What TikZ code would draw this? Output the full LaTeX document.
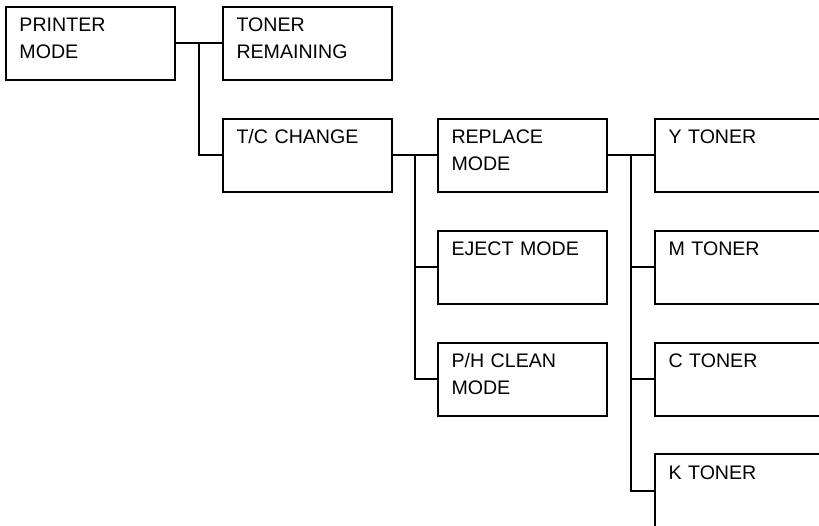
\documentclass[tikz,border=0pt]{standalone}
\usepackage{fontspec}
\setmainfont{Liberation Sans}
\usetikzlibrary{calc}
\tikzset{
    menubox/.style = {rectangle, draw=black, line width=2pt, anchor=north west,
                      minimum width=169pt, minimum height=73pt, inner xsep=13.5pt, inner ysep=11.5pt,
                      text width=142pt, align=left, text height=13.5pt, text depth=36.5pt,
                      font=\fontsize{19.6}{26.3}\selectfont},
    link/.style    = {line width=2pt, draw=black}
}
\begin{document}
\begin{tikzpicture}[x=1pt, y=-1pt]
        \clip (0,0) rectangle (819,526);
        \useasboundingbox (0,0) rectangle (819,526);

        % First Level
        \node[menubox] (pm) at (5, 6) {PRINTER\\MODE};
        \node[menubox] (tr) at (222, 6) {TONER\\REMAINING};
        \node[menubox] (tc) at (222, 118) {T/C CHANGE};

        % Second Level
        \node[menubox] (rm) at (437, 118) {REPLACE\\MODE};
        \node[menubox] (em) at (437, 230) {EJECT MODE};
        \node[menubox] (pc) at (437, 342) {P/H CLEAN\\MODE};

        % Third Level (Cut Off At Right)
        \node[menubox] (yt) at (654, 118) {Y TONER};
        \node[menubox] (mt) at (654, 230) {M TONER};
        \node[menubox] (ct) at (654, 342) {C TONER};
        \node[menubox] (kt) at (654, 453) {K TONER};

        % Junctions
        \coordinate (j1) at ($(pm.east)!0.5!(tr.west)$);
        \coordinate (j2) at ($(tc.east)!0.5!(rm.west)$);
        \coordinate (j3) at ($(rm.east)!0.5!(yt.west)$);

        % Connectors
        \draw[link] (pm.east) -- (tr.west);
        \draw[link] (j1) |- (tc.west);
        \draw[link] (tc.east) -- (rm.west);
        \draw[link] (j2) |- (em.west);
        \draw[link] (j2) |- (pc.west);
        \draw[link] (rm.east) -- (yt.west);
        \draw[link] (j3) |- (mt.west);
        \draw[link] (j3) |- (ct.west);
        \draw[link] (j3) |- (kt.west);

    \end{tikzpicture}
\end{document}
